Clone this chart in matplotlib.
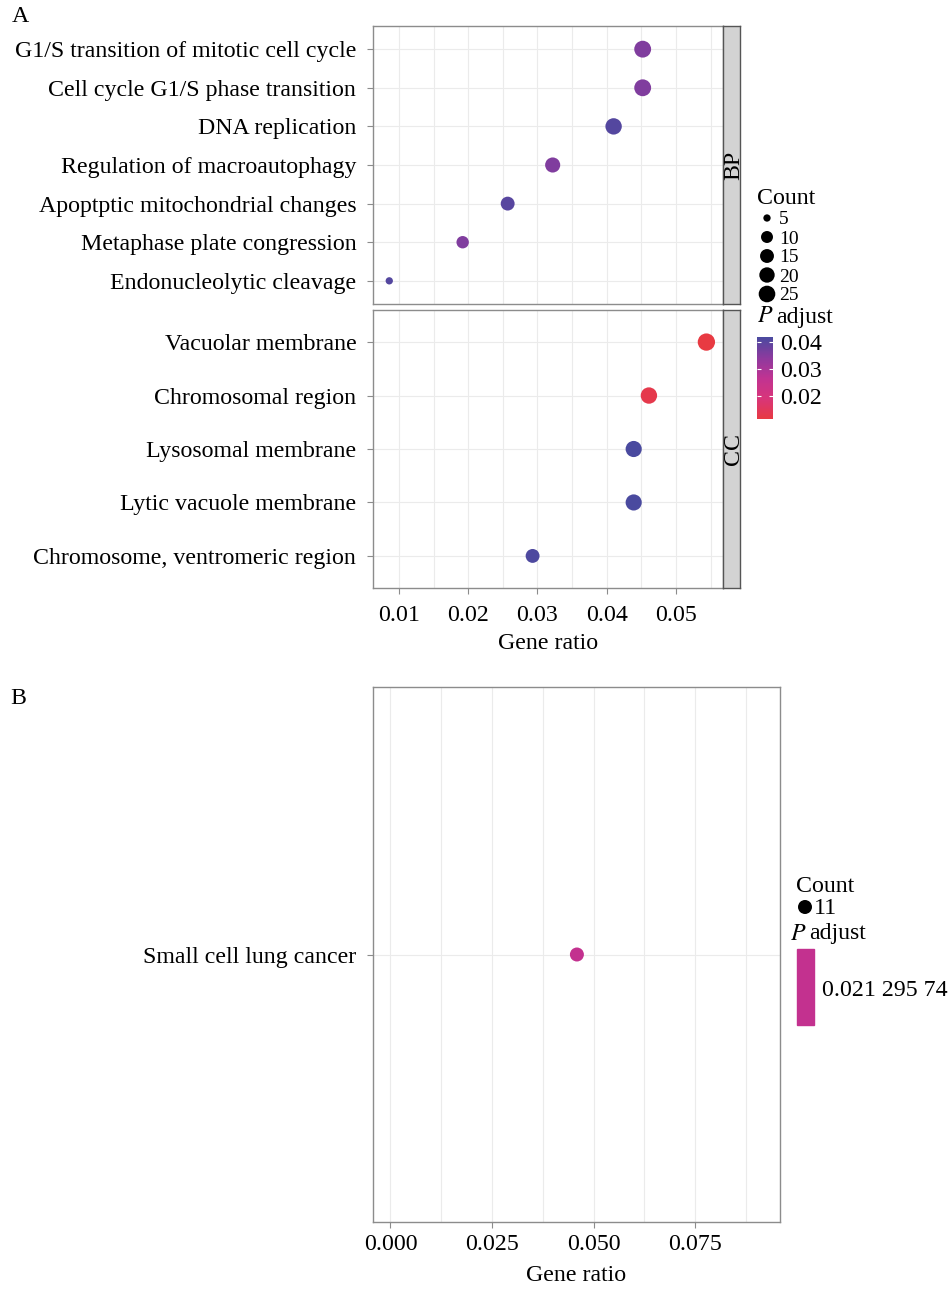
import matplotlib
matplotlib.use("Agg")
import matplotlib.pyplot as plt
import numpy as np
from matplotlib.colors import LinearSegmentedColormap, Normalize
from matplotlib.cm import ScalarMappable

plt.rcParams['font.family'] = ['Liberation Serif', 'DejaVu Serif']

# GO terms (panel A), top to bottom
bp_terms = ['G1/S transition of mitotic cell cycle', 'Cell cycle G1/S phase transition',
            'DNA replication', 'Regulation of macroautophagy',
            'Apoptptic mitochondrial changes', 'Metaphase plate congression',
            'Endonucleolytic cleavage']
bp_ratio = [0.0452, 0.0452, 0.0410, 0.0322, 0.0257, 0.0192, 0.0086]
bp_count = [26, 26, 24, 19, 15, 11, 5]
bp_padj = [0.0355, 0.0355, 0.0405, 0.0355, 0.0400, 0.0355, 0.0405]

cc_terms = ['Vacuolar membrane', 'Chromosomal region', 'Lysosomal membrane',
            'Lytic vacuole membrane', 'Chromosome, ventromeric region']
cc_ratio = [0.0544, 0.0461, 0.0439, 0.0439, 0.0293]
cc_count = [28, 24, 23, 23, 15]
cc_padj = [0.0114, 0.0128, 0.0417, 0.0417, 0.0412]

# KEGG (panel B)
kegg_terms = ['Small cell lung cancer']
kegg_ratio = [0.0459]
kegg_count = [11]
kegg_padj = [0.02129574]

count_breaks = [5, 10, 15, 20, 25]
padj_breaks = [0.02, 0.03, 0.04]

W, H = 951, 1289
fig = plt.figure(figsize=(W / 100, H / 100), dpi=100)
fig.patch.set_facecolor('white')

cmap = LinearSegmentedColormap.from_list(
    'padj', ['#E83A42', '#D8357A', '#C03392', '#8C3A9E', '#4A4A9F'])
all_counts = bp_count + cc_count
cmin, cmax = min(all_counts), max(all_counts)
norm = Normalize(min(bp_padj + cc_padj), max(bp_padj + cc_padj))


def rect(l, t, r, b):
    return [l / W, 1 - b / H, (r - l) / W, (b - t) / H]


def size_px(c):
    return 7.3 + 10 * np.sqrt((np.asarray(c, float) - cmin) / (cmax - cmin))


def s_of(d):
    return (np.asarray(d) * 0.72) ** 2


FS = 17.2
GRID = '#EBEBEB'
EDGE = '#8C8C8C'


def style(ax):
    ax.set_facecolor('white')
    for sp in ax.spines.values():
        sp.set_color(EDGE)
        sp.set_linewidth(1.0)
    ax.tick_params(colors=EDGE, labelcolor='black', labelsize=FS, length=4, width=0.8)
    ax.tick_params(axis='y', pad=8)
    ax.tick_params(axis='x', pad=8)
    ax.grid(True, which='both', color=GRID, linewidth=0.8)
    ax.set_axisbelow(True)


def dotpanel(ax, terms, ratio, count, padj, sizes):
    y = np.arange(len(terms))[::-1]
    ax.scatter(ratio, y, s=s_of(sizes), c=cmap(norm(np.array(padj))),
               edgecolors='none', zorder=3)
    ax.set_yticks(y)
    ax.set_yticklabels(terms)
    ax.set_ylim(-0.6, len(terms) - 0.4)
    style(ax)


# ---- panel A ----
xlimA = (0.00625, 0.0568)
ax_bp = fig.add_axes(rect(373, 26, 723, 304))
dotpanel(ax_bp, bp_terms, bp_ratio, bp_count, bp_padj, size_px(bp_count))
ax_cc = fig.add_axes(rect(373, 310, 723, 588))
dotpanel(ax_cc, cc_terms, cc_ratio, cc_count, cc_padj, size_px(cc_count))
for ax in (ax_bp, ax_cc):
    ax.set_xlim(*xlimA)
    ax.set_xticks([0.01, 0.02, 0.03, 0.04, 0.05])
    ax.set_xticks(np.arange(0.015, 0.056, 0.01), minor=True)
    ax.tick_params(axis='x', which='minor', length=0)
ax_bp.tick_params(axis='x', labelbottom=False, length=0)
ax_cc.set_xticklabels(['0.01', '0.02', '0.03', '0.04', '0.05'])
ax_cc.set_xlabel('Gene ratio', fontsize=FS, labelpad=5)

for (t, b, lab) in [(26, 304, 'BP'), (310, 588, 'CC')]:
    st = fig.add_axes(rect(723, t, 740, b))
    st.set_facecolor('#D3D3D3')
    st.set_xticks([])
    st.set_yticks([])
    for sp in st.spines.values():
        sp.set_color('#555555')
        sp.set_linewidth(1.0)
    st.text(0.62, 0.5, lab, rotation=90, ha='center', va='center',
            fontsize=FS, transform=st.transAxes)

# ---- panel B ----
ax_k = fig.add_axes(rect(373, 687, 780, 1222))
y = np.arange(len(kegg_terms))
ax_k.scatter(kegg_ratio, y, s=s_of([14] * len(kegg_ratio)), c=['#C3318F'],
             edgecolors='none', zorder=3)
ax_k.set_yticks(y)
ax_k.set_yticklabels(kegg_terms)
ax_k.set_ylim(-0.6, 0.6)
style(ax_k)
ax_k.set_xlim(-0.0043, 0.0959)
ax_k.set_xticks([0.0, 0.025, 0.05, 0.075])
ax_k.set_xticklabels(['0.000', '0.025', '0.050', '0.075'])
ax_k.set_xticks([0.0125, 0.0375, 0.0625, 0.0875], minor=True)
ax_k.tick_params(axis='x', which='minor', length=0)
ax_k.tick_params(axis='x', pad=5)
ax_k.set_xlabel('Gene ratio', fontsize=FS, labelpad=7)

# ---- legends (overlay in pixel coords) ----
ov = fig.add_axes([0, 0, 1, 1])
ov.set_xlim(0, W)
ov.set_ylim(H, 0)
ov.axis('off')

fig.text(12 / W, 1 - 17 / H, 'A', fontsize=FS, va='center', ha='left')
fig.text(10 / W, 1 - 698 / H, 'B', fontsize=FS, va='center', ha='left')

# count legend A
ov.text(757, 199, 'Count', fontsize=FS, va='center', ha='left')
leg_y = [218, 237, 256, 275, 294]
ov.scatter([767] * len(count_breaks), leg_y, s=s_of(size_px(count_breaks)),
           c='black', edgecolors='none')
for yy, cb in zip(leg_y, count_breaks):
    ov.text(779, yy + 2, str(cb), fontsize=14, va='center', ha='left')

ov.text(757, 317, r'$P$', fontsize=FS, va='center', ha='left',
        math_fontfamily='stix')
ov.text(776, 317, 'adjust', fontsize=FS, va='center', ha='left')

cax = fig.add_axes(rect(757, 337, 773, 419))
cb = fig.colorbar(ScalarMappable(norm=norm, cmap=cmap), cax=cax)
cb.outline.set_visible(False)
cb.set_ticks(padj_breaks)
cb.set_ticklabels(['0.02', '0.03', '0.04'])
cax.tick_params(length=3, width=0.8, color='white', direction='in',
                labelsize=FS, pad=5, left=True, right=True)

# legend B
ov.text(796, 887, 'Count', fontsize=FS, va='center', ha='left')
ov.scatter([805], [907], s=s_of([14]), c='black', edgecolors='none')
ov.text(814, 909, str(kegg_count[0]), fontsize=FS, va='center', ha='left')
ov.text(790, 934, r'$P$', fontsize=FS, va='center', ha='left',
        math_fontfamily='stix')
ov.text(809, 934, 'adjust', fontsize=FS, va='center', ha='left')
ov.add_patch(plt.Rectangle((797, 949), 17, 76, color='#C3318F'))
ov.text(822, 991, '0.021 295 74', fontsize=FS, va='center', ha='left')

fig.savefig('out.png', dpi=100)
